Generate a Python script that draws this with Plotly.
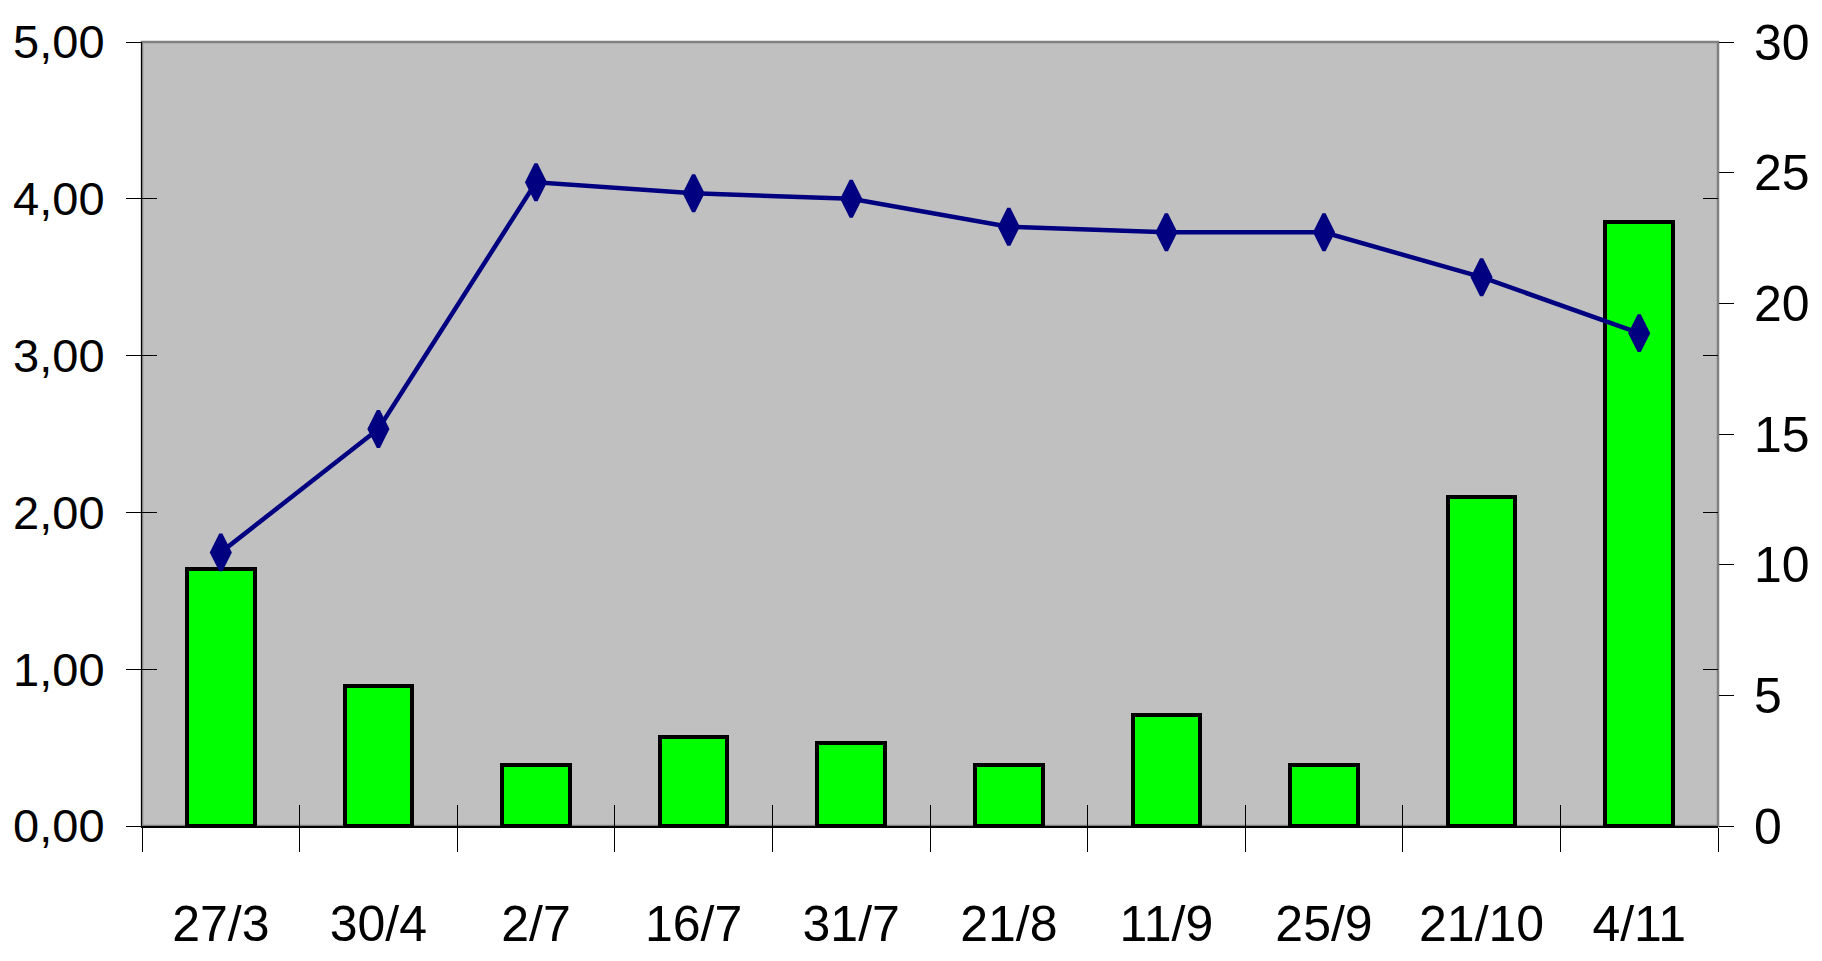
import plotly.graph_objects as go

categories = ["27/3", "30/4", "2/7", "16/7", "31/7", "21/8", "11/9", "25/9", "21/10", "4/11"]
bar_values = [1.64, 0.89, 0.39, 0.57, 0.53, 0.39, 0.71, 0.39, 2.10, 3.85]
line_values = [10.47, 15.19, 24.63, 24.21, 24.0, 22.93, 22.72, 22.72, 21.0, 18.86]
left_ticks = [0, 1, 2, 3, 4, 5]
right_ticks = [0, 5, 10, 15, 20, 25, 30]
boundaries = [i - 0.5 for i in range(len(categories) + 1)]

FONT = "Liberation Sans, Arial, sans-serif"
FS = 50

fig = go.Figure()
fig.add_trace(go.Bar(
    x=categories, y=bar_values, width=0.43,
    marker=dict(color="#00FF00", line=dict(color="#000000", width=4)),
    xaxis="x", yaxis="y", showlegend=False,
))
fig.add_trace(go.Scatter(
    x=categories, y=line_values, mode="lines+markers",
    line=dict(color="#000080", width=4.5),
    marker=dict(symbol="diamond-tall", size=26, color="#000080",
                line=dict(color="#000080", width=3.5)),
    xaxis="x", yaxis="y2", showlegend=False,
))
# empty helper traces so the tick-only overlay axes are drawn
fig.add_trace(go.Scatter(x=[], y=[], xaxis="x3", yaxis="y", showlegend=False, hoverinfo="skip"))
fig.add_trace(go.Scatter(x=[], y=[], xaxis="x", yaxis="y3", showlegend=False, hoverinfo="skip"))

fig.update_layout(
    width=1814, height=953,
    margin=dict(l=134, r=104, t=34, b=135, autoexpand=False),
    paper_bgcolor="white",
    plot_bgcolor="rgba(0,0,0,0)",
    separators=", ",
    font=dict(family=FONT, size=FS, color="black"),
    bargap=0,
    xaxis=dict(
        type="category", categoryorder="array", categoryarray=categories,
        range=[-0.5, len(categories) - 0.5], automargin=False, tickangle=0,
        tickson="boundaries", ticks="outside", ticklen=24, tickwidth=1, tickcolor="black",
        showline=True, linecolor="black", linewidth=1.5,
        showgrid=False, zeroline=False, ticklabelstandoff=53,
        tickfont=dict(family=FONT, size=FS, color="black"),
    ),
    xaxis3=dict(
        overlaying="x", anchor="y", side="bottom", automargin=False,
        range=[-0.5, len(categories) - 0.5], tickmode="array", tickvals=boundaries,
        ticks="inside", ticklen=21, tickwidth=1, tickcolor="black",
        showticklabels=False, showline=False, showgrid=False, zeroline=False,
    ),
    yaxis=dict(
        range=[0, 5], tickmode="array", tickvals=left_ticks, tickformat=".2f",
        automargin=False,
        ticks="outside", ticklen=15, tickwidth=1, tickcolor="black",
        showline=True, linecolor="black", linewidth=1,
        showgrid=False, zeroline=False, ticklabelstandoff=12,
        tickfont=dict(family=FONT, size=47, color="black"),
    ),
    yaxis2=dict(
        overlaying="y", side="right", anchor="x", automargin=False,
        range=[0, 30], tickmode="array", tickvals=right_ticks,
        ticks="outside", ticklen=15, tickwidth=1, tickcolor="black",
        showline=False, showgrid=False, zeroline=False, ticklabelstandoff=10,
        tickfont=dict(family=FONT, size=FS, color="black"),
    ),
    yaxis3=dict(
        overlaying="y", side="left", anchor="x", automargin=False,
        range=[0, 5], tickmode="array", tickvals=left_ticks,
        ticks="inside", ticklen=15, tickwidth=1, tickcolor="black", mirror="ticks",
        showticklabels=False, showline=False, showgrid=False, zeroline=False,
    ),
    shapes=[dict(
        type="rect", xref="paper", yref="paper", x0=0, y0=0, x1=1, y1=1,
        fillcolor="#C0C0C0", line=dict(color="#808080", width=2.5), layer="below",
    )],
)

fig.write_html("out.html")
